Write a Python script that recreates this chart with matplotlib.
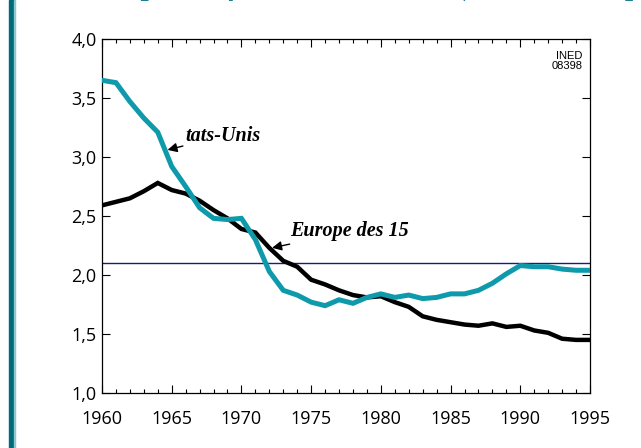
import matplotlib
matplotlib.use("Agg")
import matplotlib.pyplot as plt
from matplotlib.patches import Rectangle

years = list(range(1960, 1996))
usa = [3.65, 3.63, 3.47, 3.33, 3.21, 2.92, 2.75, 2.57, 2.48, 2.47,
       2.48, 2.30, 2.03, 1.87, 1.83, 1.77, 1.74, 1.79, 1.76, 1.81,
       1.84, 1.81, 1.83, 1.80, 1.81, 1.84, 1.84, 1.87, 1.93, 2.01,
       2.08, 2.07, 2.07, 2.05, 2.04, 2.04]
europe = [2.59, 2.62, 2.65, 2.71, 2.78, 2.72, 2.69, 2.63, 2.55, 2.48,
          2.39, 2.36, 2.23, 2.12, 2.07, 1.96, 1.92, 1.87, 1.83, 1.81,
          1.82, 1.77, 1.73, 1.65, 1.62, 1.60, 1.58, 1.57, 1.59, 1.56,
          1.57, 1.53, 1.51, 1.46, 1.45, 1.45]
replacement = 2.1
xticks = [1960, 1965, 1970, 1975, 1980, 1985, 1990, 1995]
yticks = [1.0, 1.5, 2.0, 2.5, 3.0, 3.5, 4.0]
ytick_labels = ["1,0", "1,5", "2,0", "2,5", "3,0", "3,5", "4,0"]

W, H = 641, 448
fig = plt.figure(figsize=(W / 100, H / 100), dpi=100)

# left decorative bar
fig.patches.append(Rectangle((9 / W, 0), 5 / W, 1, transform=fig.transFigure,
                             color="#006a78", zorder=0))
fig.patches.append(Rectangle((14 / W, 0), 1 / W, 1, transform=fig.transFigure,
                             color="#8cc6cf", zorder=0))

# clipped title (only descenders visible)
fig.text(75 / W, 1 + 5 / H, "Taux pour 1 femme, 1960-1995 (descendance pour 1 femme)",
         color="#1f7f93", fontsize=21, fontstyle="italic", fontweight="bold",
         family="Liberation Serif", va="baseline", ha="left")

ax = fig.add_axes([102 / W, 1 - 393 / H, (590 - 102) / W, (393 - 39) / H])
ax.plot(years, europe, color="black", lw=3.2, solid_joinstyle="miter", zorder=3)
ax.plot(years, usa, color="#0e9aaa", lw=3.6, solid_joinstyle="miter", zorder=4)
ax.axhline(replacement, color="#1a1a80", lw=1.0, zorder=2)

ax.set_xlim(1960, 1995)
ax.set_ylim(1.0, 4.0)
ax.set_xticks(xticks)
ax.set_xticks(years, minor=True)
ax.set_yticks(yticks)
ax.set_yticklabels(ytick_labels)
ax.tick_params(which="both", direction="in", top=True, right=True,
               labelsize=13, color="black", width=0.8)
ax.tick_params(which="major", length=6)
ax.tick_params(axis="y", which="major", pad=4)
ax.tick_params(axis="x", which="major", pad=12)
ax.tick_params(which="minor", length=3)
for lab in ax.get_xticklabels() + ax.get_yticklabels():
    lab.set_family("Open Sans")
for s in ax.spines.values():
    s.set_linewidth(0.9)

ax.text(0.985, 0.965, "INED\n08398", transform=ax.transAxes, ha="right", va="top",
        fontsize=8, family="Liberation Sans", linespacing=1.0)

ax.annotate("tats-Unis", xy=(1964.7, 3.06), xytext=(1966.0, 3.18),
            fontsize=14.5, fontstyle="italic", fontweight="bold", family="Liberation Serif",
            va="center", ha="left",
            arrowprops=dict(arrowstyle="-|>", color="black", lw=1.0,
                            mutation_scale=14, shrinkA=0, shrinkB=0))
ax.annotate("Europe des 15", xy=(1972.2, 2.23), xytext=(1973.5, 2.37),
            fontsize=14.5, fontstyle="italic", fontweight="bold", family="Liberation Serif",
            va="center", ha="left",
            arrowprops=dict(arrowstyle="-|>", color="black", lw=1.0,
                            mutation_scale=14, shrinkA=0, shrinkB=0))

fig.savefig("out.png", dpi=100)
